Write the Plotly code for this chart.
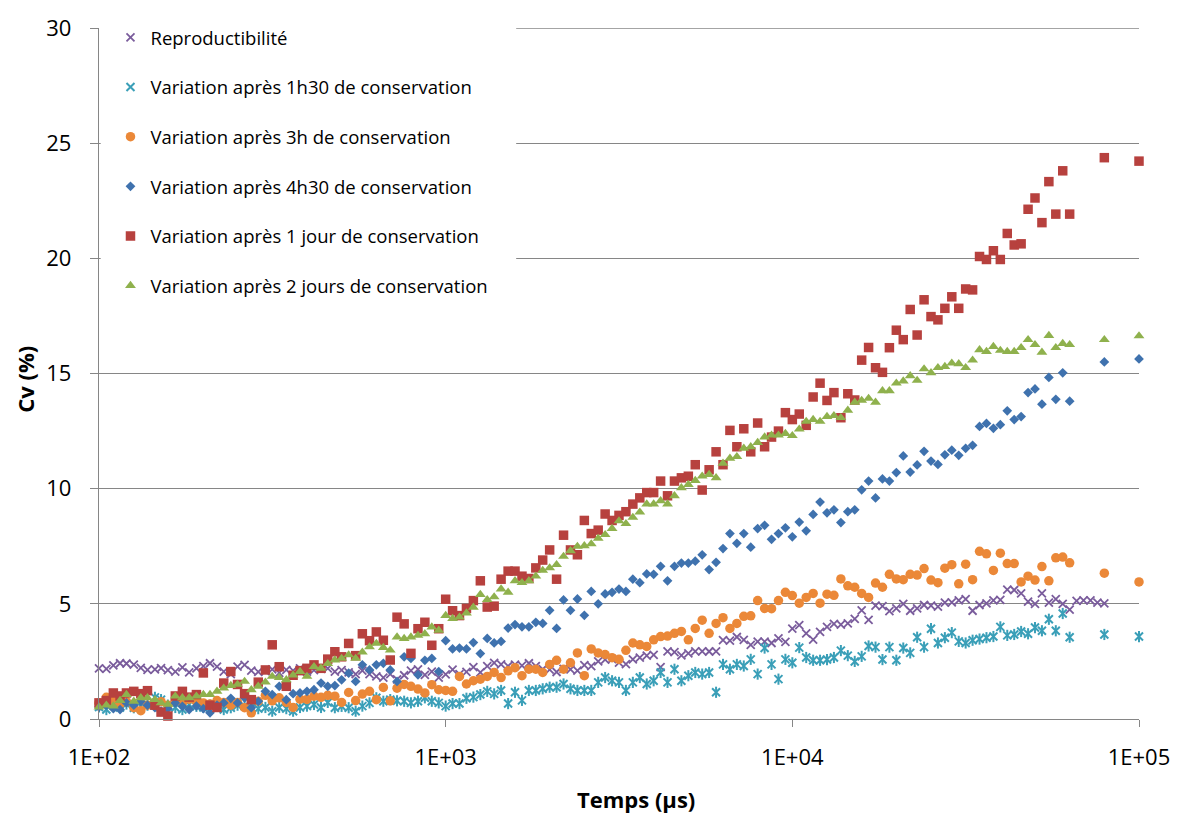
import plotly.graph_objects as go

# Temps de mesure (µs), grille commune des séries
temps_us = [
    100, 105, 110, 115, 120, 126, 132, 138, 145, 151,
    158, 166, 174, 182, 191, 200, 209, 219, 229, 240,
    251, 263, 275, 288, 302, 316, 331, 347, 363, 380,
    398, 417, 437, 457, 479, 501, 525, 550, 575, 603,
    631, 661, 692, 724, 759, 794, 832, 871, 912, 955,
    1000, 1047, 1096, 1148, 1202, 1259, 1318, 1380, 1445, 1514,
    1585, 1660, 1738, 1820, 1905, 1995, 2089, 2188, 2291, 2399,
    2512, 2630, 2754, 2884, 3020, 3162, 3311, 3467, 3631, 3802,
    3981, 4169, 4365, 4571, 4786, 5012, 5248, 5495, 5754, 6026,
    6310, 6607, 6918, 7244, 7586, 7943, 8318, 8710, 9120, 9550,
    10000, 10471, 10965, 11482, 12023, 12589, 13183, 13804, 14454, 15136,
    15849, 16596, 17378, 18197, 19055, 19953, 20893, 21878, 22909, 23988,
    25119, 26303, 27542, 28840, 30200, 31623, 33113, 34674, 36308, 38019,
    39811, 41687, 43652, 45709, 47863, 50119, 52481, 54954, 57544, 60256,
    63096,
]
# Points complémentaires en fin de mesure
temps_fin = [79433, 100000]
temps_fin_repro = [66069, 69183, 72444, 75858, 79433]

cv_reproductibilite = [
    2.2, 2.18, 2.33, 2.42, 2.41, 2.36, 2.22, 2.13, 2.15, 2.21,
    2.12, 2.06, 2.24, 2.02, 2.2, 2.3, 2.42, 2.27, 2.06, 1.95,
    2.27, 2.35, 2.1, 2.05, 2.08, 2.15, 2.0, 2.13, 2.1, 2.2,
    2.06, 2.12, 2.18, 2.2, 2.06, 2.12, 2.02, 1.95, 2.1, 1.95,
    1.85, 1.8, 1.95, 1.72, 1.9, 2.1, 2.15, 1.92, 2.06, 1.8,
    1.94, 2.14, 1.95, 2.05, 2.25, 2.02, 2.3, 2.44, 2.37, 2.3,
    2.36, 2.32, 2.42, 2.3, 2.16, 2.14, 2.04, 2.18, 2.15, 2.1,
    2.34, 2.3, 2.5, 2.58, 2.6, 2.45, 2.38, 2.59, 2.66, 2.75,
    2.78, 2.25, 2.94, 2.9, 2.76, 2.85, 2.94, 2.94, 2.93, 2.94,
    3.42, 3.4, 3.56, 3.44, 3.22, 3.36, 3.36, 3.3, 3.5, 3.35,
    3.92, 4.08, 3.72, 3.45, 3.78, 4.0, 4.13, 4.1, 4.15, 4.35,
    4.72, 4.3, 4.92, 4.9, 4.68, 4.8, 5.0, 4.7, 4.8, 4.95,
    4.92, 4.88, 5.05, 5.06, 5.15, 5.2, 4.7, 4.95, 5.02, 5.15,
    5.17, 5.62, 5.6, 5.45, 5.1, 5.0, 5.45, 5.05, 5.2, 5.0,
    4.75,
]
cv_reproductibilite_fin = [5.13, 5.15, 5.15, 5.05, 5.02]

cv_1h30 = [
    0.52, 0.41, 0.6, 0.5, 0.65, 0.49, 0.55, 0.6, 0.94, 0.84,
    0.6, 0.5, 0.41, 0.63, 0.55, 0.5, 0.6, 0.55, 0.41, 0.49,
    0.6, 0.55, 0.5, 0.45, 0.5, 0.34, 0.5, 0.45, 0.34, 0.5,
    0.56, 0.63, 0.5, 0.72, 0.49, 0.55, 0.49, 0.34, 0.56, 0.7,
    0.92, 0.77, 0.84, 0.79, 0.77, 0.7, 0.77, 0.92, 0.77, 0.7,
    0.56, 0.67, 0.67, 0.9, 0.95, 1.06, 1.2, 1.09, 1.24, 0.67,
    1.16, 0.81, 1.24, 1.24, 1.31, 1.38, 1.38, 1.52, 1.31, 1.24,
    1.24, 1.24, 1.59, 1.8, 1.66, 1.59, 1.24, 1.59, 1.8, 1.52,
    1.66, 2.02, 1.59, 2.16, 1.66, 1.88, 2.02, 1.95, 2.02, 1.16,
    2.37, 2.16, 2.37, 2.3, 2.59, 1.95, 3.08, 2.37, 1.73, 2.59,
    2.44, 3.1, 2.67, 2.55, 2.55, 2.58, 2.67, 2.97, 2.75, 2.5,
    2.72, 3.17, 3.12, 2.58, 3.12, 2.55, 3.08, 2.87, 3.55, 3.12,
    3.92, 3.3, 3.53, 3.75, 3.37, 3.3, 3.42, 3.47, 3.53, 3.58,
    4.0, 3.63, 3.67, 3.8, 3.7, 3.97, 3.83, 4.33, 3.83, 4.58,
    3.55,
]
cv_1h30_fin = [3.67, 3.58]

cv_3h = [
    0.7, 0.94, 0.8, 0.65, 0.75, 0.49, 0.36, 0.6, 0.7, 0.75,
    0.6, 0.8, 0.7, 0.86, 0.75, 0.7, 0.65, 0.8, 0.72, 0.6,
    0.72, 0.49, 0.27, 0.77, 1.03, 0.79, 0.92, 0.72, 0.5, 0.86,
    0.85, 0.99, 0.94, 1.03, 0.99, 0.72, 1.15, 0.8, 1.08, 1.2,
    0.84, 1.37, 0.79, 1.34, 1.5, 1.42, 1.3, 1.13, 1.49, 1.27,
    1.24, 1.2, 1.85, 1.52, 1.66, 1.73, 1.85, 2.02, 1.8, 2.09,
    2.23, 1.88, 2.16, 2.16, 2.02, 2.37, 2.55, 2.16, 2.44, 2.87,
    1.88, 3.04, 2.87, 2.8, 2.66, 2.59, 2.98, 3.3, 3.22, 3.15,
    3.44, 3.58, 3.6, 3.72, 3.8, 3.44, 3.93, 4.29, 3.72, 4.15,
    4.4, 3.93, 4.15, 4.46, 4.48, 5.14, 4.8, 4.79, 5.14, 5.5,
    5.36, 5.03, 5.28, 5.45, 5.03, 5.42, 5.37, 6.08, 5.78, 5.72,
    5.45, 5.28, 5.9, 5.72, 6.28, 6.08, 6.05, 6.28, 6.25, 6.53,
    6.03, 5.92, 6.55, 6.7, 5.87, 6.72, 6.05, 7.28, 7.17, 6.45,
    7.2, 6.75, 6.75, 5.95, 6.2, 6.03, 6.62, 6.0, 7.0, 7.03,
    6.78,
]
cv_3h_fin = [6.33, 5.95]

cv_4h30 = [
    0.52, 0.6, 0.45, 0.41, 0.7, 0.6, 0.77, 0.6, 0.49, 0.34,
    0.45, 0.7, 0.55, 0.41, 0.56, 0.45, 0.27, 0.6, 0.7, 0.9,
    0.7, 0.92, 0.49, 0.77, 1.2, 1.06, 1.42, 0.84, 1.1, 1.13,
    1.2, 1.27, 1.56, 1.42, 1.45, 1.7, 1.99, 1.63, 2.35, 2.13,
    2.35, 2.42, 2.13, 1.63, 2.7, 2.63, 1.92, 2.55, 2.63, 2.06,
    3.4, 3.04, 3.08, 3.04, 3.32, 2.84, 3.5, 3.3, 3.37, 3.95,
    4.1, 4.0, 4.0, 4.2, 4.15, 4.72, 3.93, 5.17, 4.72, 5.21,
    4.5, 5.54, 5.0, 5.43, 5.5, 5.64, 5.54, 6.07, 5.92, 6.3,
    6.28, 6.63, 6.0, 6.63, 6.77, 6.77, 6.85, 7.13, 6.49, 6.8,
    7.4, 8.05, 7.63, 8.05, 7.46, 8.27, 8.41, 7.8, 8.05, 8.3,
    7.91, 8.55, 8.17, 8.88, 9.42, 8.95, 9.08, 8.53, 9.0, 9.08,
    9.95, 10.33, 9.6, 10.42, 10.33, 10.7, 11.42, 10.72, 11.03, 11.62,
    11.2, 11.05, 11.47, 11.67, 11.45, 11.75, 11.88, 12.7, 12.83, 12.62,
    12.78, 13.38, 13.0, 13.13, 14.17, 14.33, 13.67, 14.83, 13.88, 15.03,
    13.8,
]
cv_4h30_fin = [15.5, 15.63]

cv_1jour = [
    0.7, 0.8, 1.13, 1.0, 1.13, 1.2, 1.1, 1.23, 0.6, 0.3,
    0.13, 1.0, 1.2, 0.95, 1.06, 2.0, 0.6, 0.5, 1.56, 2.06,
    1.5, 1.1, 0.84, 1.6, 2.13, 3.22, 2.27, 1.42, 1.9, 2.1,
    2.2, 2.35, 2.2, 2.6, 2.92, 2.7, 3.28, 2.75, 3.7, 3.4,
    3.78, 3.42, 2.56, 4.42, 4.13, 2.85, 3.92, 4.2, 3.2, 3.92,
    5.2, 4.7, 4.49, 4.8, 5.14, 6.0, 4.86, 4.9, 6.07, 6.42,
    6.42, 6.2, 6.1, 6.56, 6.9, 7.34, 6.07, 7.98, 7.34, 7.13,
    8.62, 8.05, 8.2, 8.9, 8.62, 8.84, 9.0, 9.33, 9.6, 9.83,
    9.83, 10.33, 9.69, 10.33, 10.47, 10.54, 11.04, 9.94, 10.82, 11.6,
    11.04, 12.53, 11.82, 12.6, 11.6, 12.85, 11.82, 12.24, 12.5, 13.3,
    13.0, 13.24, 12.75, 13.98, 14.58, 13.83, 14.17, 13.08, 14.12, 13.85,
    15.58, 16.13, 15.25, 15.05, 16.12, 16.88, 16.47, 17.78, 16.67, 18.2,
    17.47, 17.33, 17.83, 18.33, 17.83, 18.67, 18.63, 20.08, 19.95, 20.33,
    19.95, 21.08, 20.58, 20.63, 22.13, 22.62, 21.55, 23.33, 21.92, 23.8,
    21.92,
]
cv_1jour_fin = [24.37, 24.22]

cv_2jours = [
    0.52, 0.6, 0.56, 0.8, 1.06, 0.77, 0.92, 0.92, 0.84, 0.7,
    0.63, 0.99, 0.92, 0.92, 0.99, 1.06, 1.06, 1.2, 1.34, 1.45,
    1.5, 1.63, 1.27, 1.42, 1.6, 1.85, 1.8, 1.7, 1.9, 2.06,
    1.85, 2.27, 2.2, 2.4, 2.56, 2.63, 2.78, 2.63, 2.9, 3.13,
    3.28, 3.1, 2.99, 3.56, 3.49, 3.56, 3.63, 3.7, 3.99, 3.85,
    4.49, 4.36, 4.42, 4.6, 4.85, 5.4, 5.18, 5.3, 5.64, 5.5,
    6.0, 5.92, 6.0, 6.2, 6.45, 6.56, 6.7, 7.06, 7.3, 7.49,
    7.52, 7.6, 7.84, 8.0, 8.27, 8.6, 8.48, 8.75, 8.98, 9.33,
    9.33, 9.47, 9.33, 9.69, 10.04, 10.18, 10.35, 10.54, 10.61, 10.47,
    11.1, 11.32, 11.39, 11.75, 11.82, 12.0, 12.24, 12.32, 12.32, 12.39,
    12.3, 12.58, 12.92, 13.0, 12.92, 13.13, 13.17, 13.08, 13.4, 13.75,
    13.83, 13.92, 13.75, 14.25, 14.25, 14.58, 14.67, 14.9, 14.7, 15.2,
    15.03, 15.25, 15.3, 15.45, 15.42, 15.25, 15.58, 16.03, 15.95, 16.17,
    16.0, 15.95, 15.95, 16.12, 16.47, 16.25, 15.92, 16.65, 16.12, 16.3,
    16.25,
]
cv_2jours_fin = [16.47, 16.63]

x_tickvals = [100, 1000, 10000, 100000]
x_ticktext = ["1E+02", "1E+03", "1E+04", "1E+05"]
y_tickvals = [0, 5, 10, 15, 20, 25, 30]

FONT = "Open Sans"
GRID = "#868686"

fig = go.Figure()

def add_series(name, xs, ys, symbol, color, size, group, line_w=0, legend=True):
    marker = dict(symbol=symbol, size=size, color=color)
    if symbol.startswith("x-thin") or symbol.startswith("line"):
        marker["line"] = dict(color=color, width=line_w)
    else:
        marker["line"] = dict(width=0)
    fig.add_trace(go.Scatter(
        x=xs, y=ys, mode="markers", name=name, marker=marker,
        legendgroup=group, showlegend=legend, cliponaxis=False,
    ))

add_series("Reproductibilité", temps_us + temps_fin_repro,
           cv_reproductibilite + cv_reproductibilite_fin,
           "x-thin-open", "#7A5C9C", 8, "g1", line_w=1.8)
add_series("Variation après 1h30 de conservation", temps_us + temps_fin,
           cv_1h30 + cv_1h30_fin, "x-thin-open", "#3A9FB8", 8, "g2", line_w=2.0)
add_series("Variation après 1h30 de conservation", temps_us + temps_fin,
           cv_1h30 + cv_1h30_fin, "line-ns-open", "#3A9FB8", 8, "g2",
           line_w=2.0, legend=False)
add_series("Variation après 3h de conservation", temps_us + temps_fin,
           cv_3h + cv_3h_fin, "circle", "#EB8838", 9.5, "g3")
add_series("Variation après 4h30 de conservation", temps_us + temps_fin,
           cv_4h30 + cv_4h30_fin, "diamond", "#3F72AE", 7.5, "g4")
add_series("Variation après 1 jour de conservation", temps_us + temps_fin,
           cv_1jour + cv_1jour_fin, "square", "#B7413E", 9.5, "g5")
add_series("Variation après 2 jours de conservation", temps_us + temps_fin,
           cv_2jours + cv_2jours_fin, "triangle-up", "#8FB14D", 9.5, "g6")

# Plot-area geometry in pixels
L, R, T, B = 98.5, 42.7, 19.3, 96.7
W = 1182 - L - R
H = 816 - T - B

def px_x(p):
    return (p - L) / W

def px_y(p):
    return (816 - B - p) / H

fig.update_layout(
    width=1182, height=816,
    margin=dict(l=L, r=R, t=T, b=B, pad=0),
    paper_bgcolor="white", plot_bgcolor="white",
    font=dict(family=FONT, color="black"),
    showlegend=True,
    legend=dict(
        x=px_x(110), y=px_y(10), xanchor="left", yanchor="top",
        bgcolor="rgba(0,0,0,0)", borderwidth=0,
        font=dict(family=FONT, size=18.5, color="black"),
        tracegroupgap=22.6, itemwidth=30,
    ),
    xaxis=dict(
        type="log", range=[2, 5],
        tickmode="array", tickvals=x_tickvals, ticktext=x_ticktext,
        ticks="outside", ticklen=7, tickwidth=1.3, tickcolor=GRID,
        showline=True, linecolor=GRID, linewidth=1.3,
        showgrid=False, zeroline=False,
        tickfont=dict(family=FONT, size=22, color="black"),
        ticklabelstandoff=11,
    ),
    yaxis=dict(
        range=[0, 30], tickmode="array", tickvals=y_tickvals,
        ticks="outside", ticklen=8, tickwidth=1.3, tickcolor=GRID,
        showline=True, linecolor=GRID, linewidth=1.3,
        showgrid=True, gridcolor=GRID, gridwidth=1.3, zeroline=False,
        tickfont=dict(family=FONT, size=22, color="black"),
        ticklabelstandoff=14,
    ),
    shapes=[
        # white panel behind the legend, hiding the gridlines there
        dict(type="rect", xref="paper", yref="paper",
             x0=px_x(100.2), x1=px_x(516), y0=px_y(306), y1=px_y(16),
             fillcolor="white", line=dict(width=0), layer="above"),
        # top gridline (30 %), visible right of the legend panel
        dict(type="line", xref="paper", yref="y",
             x0=px_x(516), x1=1.0, y0=30, y1=30,
             line=dict(color=GRID, width=1.3), layer="above"),
    ],
    annotations=[
        dict(text="<b>Temps (µs)</b>", xref="paper", yref="paper",
             x=px_x(636), y=px_y(800), xanchor="center", yanchor="middle",
             showarrow=False, font=dict(family=FONT, size=22, color="black")),
        dict(text="<b>Cv (%)</b>", xref="paper", yref="paper",
             x=px_x(25), y=px_y(375), xanchor="center", yanchor="middle",
             textangle=-90, showarrow=False,
             font=dict(family=FONT, size=22, color="black")),
    ],
)

fig.write_html("out.html")
